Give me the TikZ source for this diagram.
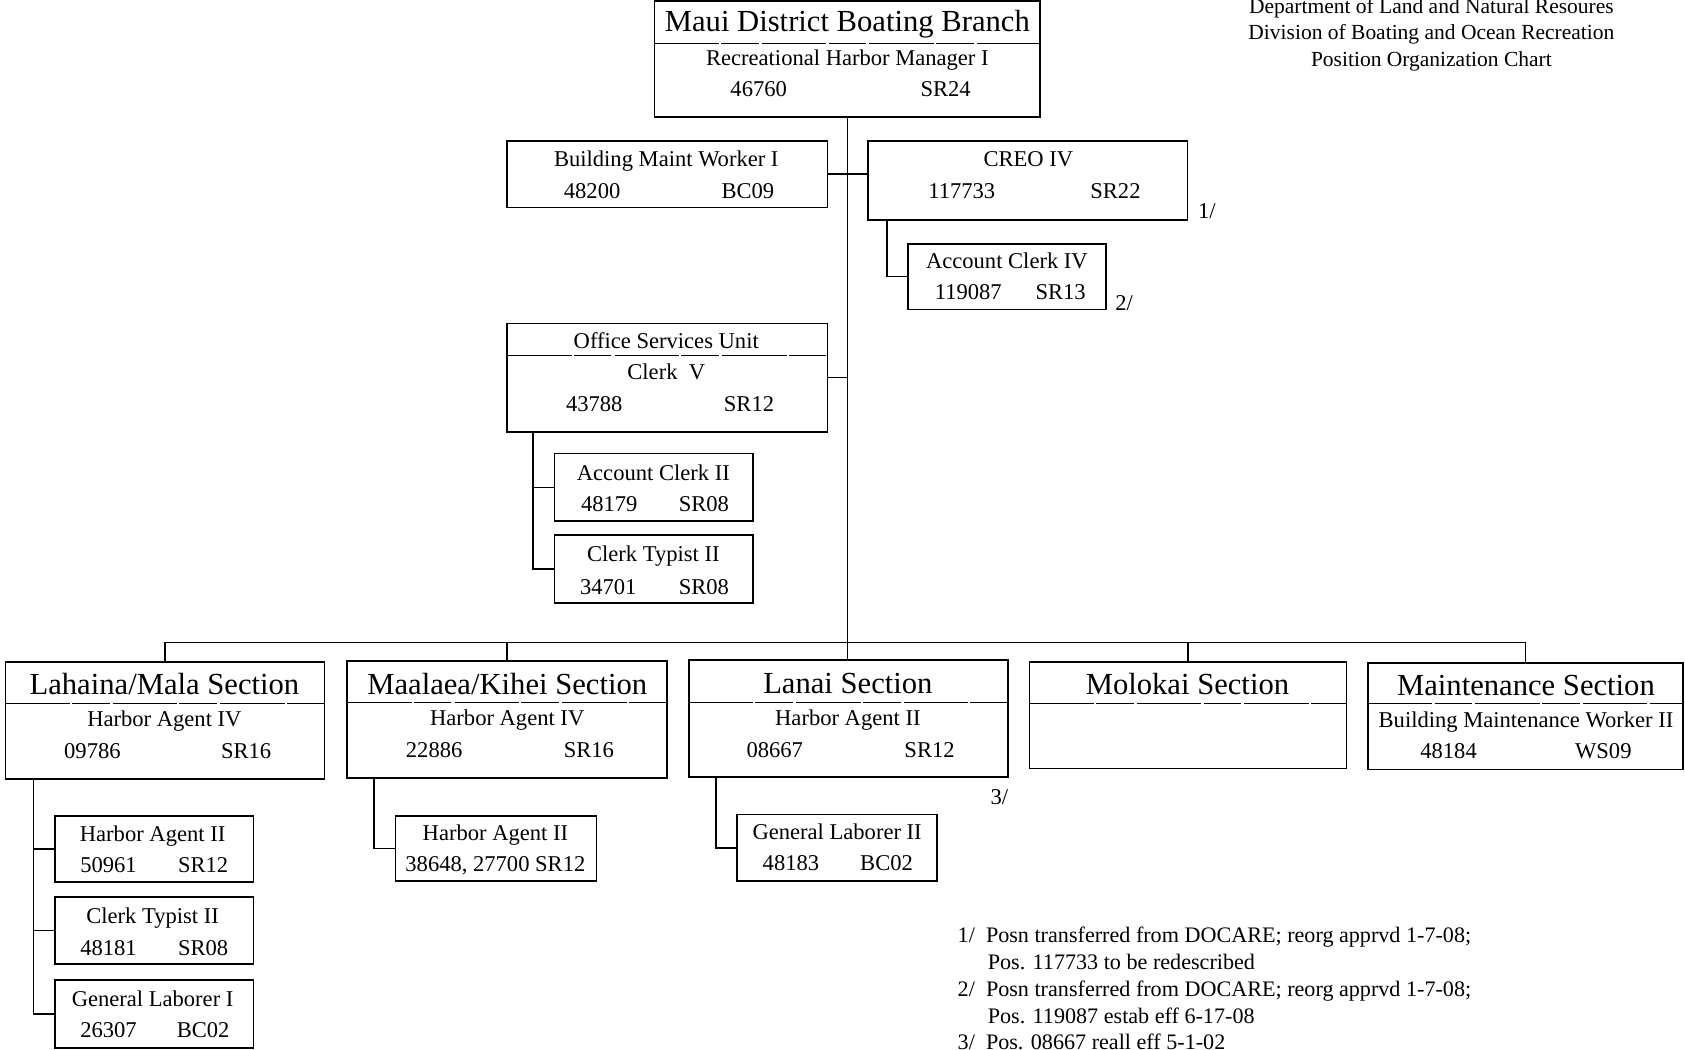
\documentclass[tikz,border=0pt]{standalone}
\usepackage{fontspec}
\setmainfont{Liberation Serif}
\begin{document}
\begin{tikzpicture}[x=1pt, y=-1pt,  % boating branch chart
		box/.style={draw, line width=1.6pt, inner sep=0pt},
		pbox/.style 2 args={box, minimum width=#1, minimum height=#2},
		txt/.style={inner sep=0pt, text height=18pt, text depth=4.5pt, font=\fontsize{21}{24}\selectfont},
		head/.style={inner sep=0pt, text height=24.5pt, text depth=6pt, font=\fontsize{28.5}{32}\selectfont},
		note/.style={inner sep=0pt, text height=17.5pt, text depth=4.5pt, font=\fontsize{20}{24}\selectfont},
		sep/.style={line width=0.9pt, dash pattern=on 60pt off 2pt on 35pt off 3pt},
		conn/.style={line width=1.4pt}]
		\useasboundingbox (0,0) rectangle (1568,977);
		% header
		\node[note] (dlnr) at (1332,6) {Department of Land and Natural Resoures};
		\node[note] (dobor) at (1332,30) {Division of Boating and Ocean Recreation};
		\node[note] (chart) at (1332,55) {Position Organization Chart};
		% branch
		\node[pbox={359pt}{108pt}] (top) at (788.5,55) {};
		\draw[sep] (609,40) -- (968,40);
		\node[head] (topT) at (788.5,20) {Maui District Boating Branch};
		\node[txt] (topP) at (788.5,54) {Recreational Harbor Manager I};
		\node[txt] (topN) at (706,83) {46760};
		\node[txt] (topG) at (880,83) {SR24};
		% staff
		\node[pbox={298pt}{62pt}] (bmw) at (621,162) {};
		\node[txt] (bmwP) at (620,148) {Building Maint Worker I};
		\node[txt] (bmwN) at (551,178) {48200};
		\node[txt] (bmwG) at (696,178) {BC09};
		\node[pbox={297pt}{74pt}] (creo) at (956.5,168) {};
		\node[txt] (creoP) at (957,148) {CREO IV};
		\node[txt] (creoN) at (895,178) {117733};
		\node[txt] (creoG) at (1038,178) {SR22};
		\node[txt] (fn1) at (1123,197) {1/};
		\node[pbox={184pt}{61pt}] (acc4) at (937,257.5) {};
		\node[txt] (acc4P) at (937,243) {Account Clerk IV};
		\node[txt] (acc4N) at (901,272) {119087};
		\node[txt] (acc4G) at (987,272) {SR13};
		\node[txt] (fn2) at (1046,282) {2/};
		% office services
		\node[pbox={298pt}{101pt}] (osu) at (621,351.5) {};
		\draw[sep] (472,331) -- (770,331);
		\node[txt] (osuT) at (620,318) {Office Services Unit};
		\node[txt] (osuP) at (620,346) {Clerk\enspace V};
		\node[txt] (osuN) at (553,376) {43788};
		\node[txt] (osuG) at (697,376) {SR12};
		\node[pbox={185pt}{63pt}] (acc2) at (608.5,453.5) {};
		\node[txt] (acc2P) at (608,440) {Account Clerk II};
		\node[txt] (acc2N) at (567,469) {48179};
		\node[txt] (acc2G) at (655,469) {SR08};
		\node[pbox={185pt}{63pt}] (ctA) at (608.5,529.5) {};
		\node[txt] (ctAP) at (608,516) {Clerk Typist II};
		\node[txt] (ctAN) at (566,546) {34701};
		\node[txt] (ctAG) at (655,546) {SR08};
		% sections
		\node[pbox={297pt}{109pt}] (lah) at (153.5,670.5) {};
		\draw[sep] (5,655) -- (302,655);
		\node[head] (lahT) at (153,637) {Lahaina/Mala Section};
		\node[txt] (lahP) at (153,669) {Harbor Agent IV};
		\node[txt] (lahN) at (86,699) {09786};
		\node[txt] (lahG) at (229,699) {SR16};
		\node[pbox={298pt}{109pt}] (maa) at (472,669.5) {};
		\draw[sep] (323,654) -- (621,654);
		\node[head] (maaT) at (472,637) {Maalaea/Kihei Section};
		\node[txt] (maaP) at (472,668) {Harbor Agent IV};
		\node[txt] (maaN) at (404,698) {22886};
		\node[txt] (maaG) at (548,698) {SR16};
		\node[pbox={297pt}{109pt}] (lan) at (789.5,668.5) {};
		\draw[sep] (641,654) -- (938,654);
		\node[head] (lanT) at (789,636) {Lanai Section};
		\node[txt] (lanP) at (789,668) {Harbor Agent II};
		\node[txt] (lanN) at (721,698) {08667};
		\node[txt] (lanG) at (865,698) {SR12};
		\node[txt] (fn3) at (930,742) {3/};
		\node[pbox={295pt}{99pt}] (mol) at (1105.5,665.5) {};
		\draw[sep] (958,655) -- (1253,655);
		\node[head] (molT) at (1105,637) {Molokai Section};
		\node[pbox={293pt}{99pt}] (mnt) at (1419.5,666.5) {};
		\draw[sep] (1273,655) -- (1566,655);
		\node[head] (mntT) at (1420,638) {Maintenance Section};
		\node[txt] (mntP) at (1420,670) {Building Maintenance Worker II};
		\node[txt] (mntN) at (1348,699) {48184};
		\node[txt] (mntG) at (1492,699) {WS09};
		% section staff
		\node[pbox={185pt}{62pt}] (haA) at (143.5,790) {};
		\node[txt] (haAP) at (142,776) {Harbor Agent II};
		\node[txt] (haAN) at (101,805) {50961};
		\node[txt] (haAG) at (189,805) {SR12};
		\node[pbox={185pt}{62pt}] (ctB) at (143.5,866) {};
		\node[txt] (ctBP) at (142,853) {Clerk Typist II};
		\node[txt] (ctBN) at (101,882) {48181};
		\node[txt] (ctBG) at (189,882) {SR08};
		\node[pbox={185pt}{63pt}] (glA) at (143.5,943.5) {};
		\node[txt] (glAP) at (142,930) {General Laborer I};
		\node[txt] (glAN) at (101,959) {26307};
		\node[txt] (glAG) at (189,959) {BC02};
		\node[pbox={187pt}{61pt}] (haB) at (461.5,789.5) {};
		\node[txt] (haBP) at (461,775) {Harbor Agent II};
		\node[txt] (haBN) at (461,804) {38648, 27700 SR12};
		\node[pbox={186pt}{62pt}] (glB) at (779,789) {};
		\node[txt] (glBP) at (779,774) {General Laborer II};
		\node[txt] (glBN) at (736,803) {48183};
		\node[txt] (glBG) at (825,803) {BC02};
		% footnotes
		\node[note, anchor=west, font=\fontsize{20.6}{24}\selectfont] (n1a) at (891,871) {1/\ \ Posn transferred from DOCARE; reorg apprvd 1-7-08;};
		\node[note, anchor=west, font=\fontsize{20.6}{24}\selectfont] (n1b) at (919,896) {Pos. 117733 to be redescribed};
		\node[note, anchor=west, font=\fontsize{20.6}{24}\selectfont] (n2a) at (891,921) {2/\ \ Posn transferred from DOCARE; reorg apprvd 1-7-08;};
		\node[note, anchor=west, font=\fontsize{20.6}{24}\selectfont] (n2b) at (919,946) {Pos. 119087 estab eff 6-17-08};
		\node[note, anchor=west, font=\fontsize{20.6}{24}\selectfont] (n3a) at (891,970) {3/\ \ Pos. 08667 reall eff 5-1-02};
		% connectors
		\coordinate (bus) at (789,598);
		\draw[conn] (top.south) -- (top.south |- lan.north);
		\draw[conn] (bmw.east) -- (bmw.east -| creo.west);
		\draw[conn] (osu.east) -- (osu.east -| top.south);
		\draw[conn] ([xshift=18pt]creo.south west) |- (acc4.west);
		\coordinate (osuL) at ([xshift=25pt]osu.south west);
		\draw[conn] (osuL) |- (ctA.west);
		\draw[conn] (osuL |- acc2.west) -- (acc2.west);
		\draw[conn] (lah.north) -- (lah.north |- bus) -- (mnt.north |- bus) -- (mnt.north);
		\draw[conn] (maa.north) -- (maa.north |- bus);
		\draw[conn] (mol.north) -- (mol.north |- bus);
		\coordinate (lahL) at ([xshift=27pt]lah.south west);
		\draw[conn] (lahL) |- (glA.west);
		\draw[conn] (lahL |- haA.west) -- (haA.west);
		\draw[conn] (lahL |- ctB.west) -- (ctB.west);
		\draw[conn] ([xshift=26pt]maa.south west) |- (haB.west);
		\draw[conn] ([xshift=26pt]lan.south west) |- (glB.west);
	\end{tikzpicture}
\end{document}
